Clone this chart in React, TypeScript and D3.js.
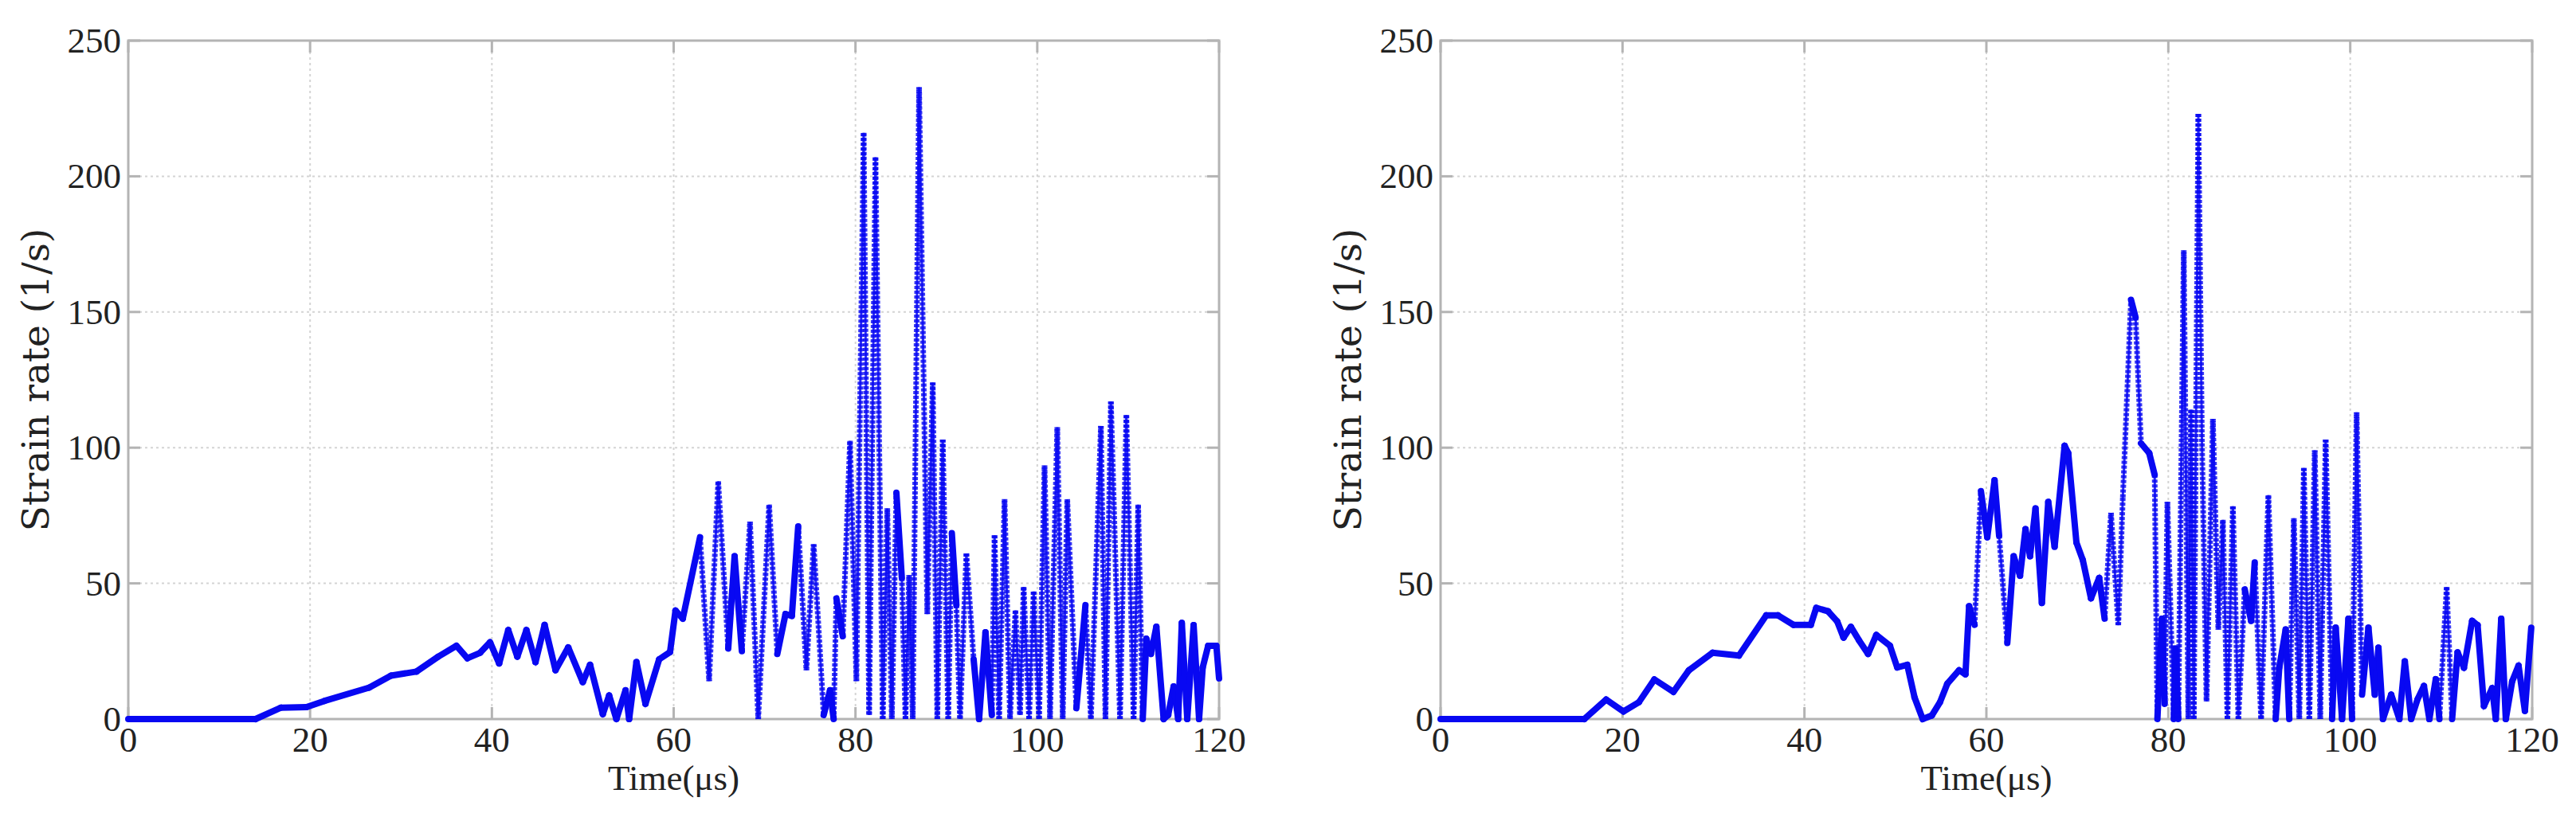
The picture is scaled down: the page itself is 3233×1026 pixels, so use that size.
import React from "react";
import * as d3 from "d3";

const xTicks = [0, 20, 40, 60, 80, 100, 120];
const yTicks = [0, 50, 100, 150, 200, 250];
const xLabel = "Time(μs)";
const yLabel = "Strain rate (1/s)";

const leftTime = [0, 14, 16.8, 19.6, 21.6, 26.5, 28.9, 31.7, 34.1, 36.1, 37.3, 38.7, 39.8, 40.8, 41.8, 42.8, 43.8, 44.8, 45.8, 47, 48.4, 50, 50.8, 52.2, 52.9, 53.7, 54.7, 55.1, 55.9, 56.9, 58.4, 59.6, 60.2, 61, 62.9, 63.9, 64.9, 66, 66.7, 67.5, 68.4, 69.3, 70.5, 71.4, 72.3, 73, 73.7, 74.6, 75.4, 76.5, 77.2, 77.6, 77.9, 78.6, 79.4, 80.1, 80.9, 81.5, 82.2, 83, 83.5, 84, 84.5, 85.1, 85.5, 85.9, 86.3, 87, 87.9, 88.5, 89, 89.6, 90.2, 90.6, 91.1, 91.5, 92.2, 93, 93.6, 94.3, 95, 95.3, 95.8, 96.4, 97, 97.6, 98.1, 98.5, 99.1, 99.6, 100.2, 100.8, 101.4, 102.2, 102.8, 103.3, 104.3, 105.3, 105.9, 107, 107.5, 108.1, 109.1, 109.8, 110.6, 111.1, 111.6, 112, 112.5, 113.1, 113.9, 114.4, 115, 115.5, 115.9, 116.5, 117.2, 117.8, 118.2, 118.8, 119.7, 120];
const leftRate = [0, 0, 4.2, 4.4, 6.7, 11.6, 16, 17.5, 23, 27, 22.4, 24.4, 28.3, 20.5, 32.8, 23, 32.8, 21, 34.7, 18, 26.4, 13.6, 20, 1.8, 8.7, 0, 10.6, 0, 21, 5.6, 22, 24.7, 40, 37, 67, 14, 87.6, 26, 60, 25, 72.7, 0, 79, 24, 38.7, 38, 71, 18, 64.4, 1.5, 10.6, 0, 44.5, 30.5, 102.5, 14, 216, 1.5, 207, 0, 77.6, 0, 83.4, 52, 0, 53, 0, 232.8, 38.7, 124, 0, 103, 0, 68.5, 42, 0, 61, 22, 0, 32, 1.5, 67.7, 0, 81, 0, 40, 1.5, 48.7, 0, 47, 0, 93.4, 0, 107.5, 0, 81, 4, 42, 0, 108, 0, 117, 0, 112, 0, 79, 0, 29.6, 24, 34, 0, 1.5, 12, 0, 35.4, 0, 34.6, 0, 19, 27, 27, 15];

const rightTime = [0, 15.8, 18.2, 20.1, 21.8, 23.5, 25.6, 27.3, 29.9, 32.8, 35.8, 37.1, 38.8, 40.7, 41.3, 42.6, 43.6, 44.3, 45.1, 46, 47, 47.9, 49.4, 50.2, 51.3, 52.1, 53, 54, 54.9, 55.7, 57, 57.7, 58.1, 58.7, 59.4, 60.1, 60.9, 61.4, 62.3, 63, 63.7, 64.3, 64.8, 65.4, 66.1, 66.8, 67.5, 68.6, 69, 69.9, 70.6, 71.5, 72.4, 73, 73.7, 74.5, 75, 75.9, 76.4, 77, 77.9, 78.5, 78.8, 79.3, 79.6, 79.9, 80.6, 80.8, 81.1, 81.7, 82.2, 82.5, 82.8, 83.3, 83.7, 84.2, 84.9, 85.5, 86, 86.5, 87.1, 87.7, 88.4, 89.1, 89.5, 90.2, 91, 91.8, 92.2, 92.9, 93.3, 93.8, 94.4, 94.9, 95.5, 96.1, 96.7, 97.3, 98, 98.4, 99.1, 99.8, 100.2, 100.7, 101.3, 102, 102.7, 103.1, 103.6, 104.5, 105.4, 106, 106.7, 107.4, 108.1, 108.7, 109.4, 109.8, 110.6, 111.2, 111.8, 112.5, 113.4, 114, 114.7, 115.6, 116, 116.6, 117.1, 117.8, 118.5, 119.2, 119.9];
const rightRate = [0, 0, 7.2, 2.8, 6.2, 14.6, 10, 18, 24.4, 23.4, 38.2, 38.2, 34.7, 34.7, 41, 39.7, 36, 30, 34, 29, 24, 31, 27, 19, 20, 8, 0, 1.3, 6.2, 13, 18, 16.5, 41.6, 34.7, 84, 67, 88, 67.6, 28, 60, 52.8, 70, 60, 77.6, 42.8, 80, 63.5, 100.7, 98, 65, 58.6, 44.5, 52, 37, 76, 34.6, 81.7, 154.5, 148, 101.6, 98, 90, 0, 37, 5.6, 80, 0, 26, 0, 172.7, 0, 114, 0, 223, 101.6, 6.5, 110.6, 33, 73.4, 0, 78.4, 0, 47.8, 36.2, 57.7, 0, 82.5, 0, 19, 33, 0, 74, 0, 92.5, 0, 99, 0, 103, 0, 33.7, 0, 37, 0, 113, 9, 33.7, 9, 26.3, 0, 9, 0, 21.3, 0, 7.3, 12.2, 0, 14.7, 0, 48.6, 0, 24.6, 18.9, 36.2, 34.6, 4.8, 11.4, 0, 37, 0, 13.9, 19.7, 3, 33.7];

const W = 3233;
const H = 1026;
const TOP = 51;
const BOTTOM = 903;
const FONT = "'Liberation Serif', 'Times New Roman', serif";
const LABEL_FONT = "'DejaVu Serif', serif";
const AXIS = "#b4b4b4";
const GRID = "#d4d4d4";
const BLUE = "#0808f2";

function Panel({ x0, x1, time, rate }: { x0: number; x1: number; time: number[]; rate: number[] }) {
  const x = d3.scaleLinear().domain([0, 120]).range([x0, x1]);
  const y = d3.scaleLinear().domain([0, 250]).range([BOTTOM, TOP]);
  const pts: [number, number][] = time.map((t, i) => [x(t), y(rate[i])]);
  const line = d3.line();
  const segs = pts.slice(1).map((p, i) => {
    const a = pts[i];
    const dx = Math.abs(p[0] - a[0]);
    const dy = Math.abs(p[1] - a[1]);
    const steep = dy > 2.5 * dx && dy > 130;
    return { d: line([a, p]) as string, steep };
  });
  return (
    <g>
      {xTicks.slice(1, -1).map((t) => (
        <line key={"gx" + t} x1={x(t)} x2={x(t)} y1={TOP} y2={BOTTOM} stroke={GRID} strokeWidth={2} strokeDasharray="3 4" />
      ))}
      {yTicks.slice(1, -1).map((v) => (
        <line key={"gy" + v} x1={x0} x2={x1} y1={y(v)} y2={y(v)} stroke={GRID} strokeWidth={2} strokeDasharray="3 4" />
      ))}
      <rect x={x0} y={TOP} width={x1 - x0} height={BOTTOM - TOP} fill="none" stroke={AXIS} strokeWidth={3} />
      {xTicks.map((t) => (
        <g key={"tx" + t}>
          <line x1={x(t)} x2={x(t)} y1={BOTTOM} y2={BOTTOM - 15} stroke={AXIS} strokeWidth={3} />
          <line x1={x(t)} x2={x(t)} y1={TOP} y2={TOP + 15} stroke={AXIS} strokeWidth={3} />
          <text x={x(t)} y={BOTTOM + 41} textAnchor="middle" fontFamily={FONT} fontSize={45} fill="#222">{t}</text>
        </g>
      ))}
      {yTicks.map((v) => (
        <g key={"ty" + v}>
          <line x1={x0} x2={x0 + 15} y1={y(v)} y2={y(v)} stroke={AXIS} strokeWidth={3} />
          <line x1={x1} x2={x1 - 15} y1={y(v)} y2={y(v)} stroke={AXIS} strokeWidth={3} />
          <text x={x0 - 9} y={y(v) + 15} textAnchor="end" fontFamily={FONT} fontSize={45} fill="#222">{v}</text>
        </g>
      ))}
      <path d={line(pts) as string} fill="none" stroke={BLUE} strokeWidth={3} strokeOpacity={0.85} />
      {segs.map((s, i) =>
        s.steep ? (
          <path key={i} d={s.d} fill="none" stroke={BLUE} strokeWidth={7} strokeOpacity={0.8} strokeDasharray="4 2" />
        ) : (
          <path key={i} d={s.d} fill="none" stroke={BLUE} strokeWidth={8} strokeLinecap="round" />
        )
      )}
      <text x={(x0 + x1) / 2} y={992} textAnchor="middle" fontFamily={FONT} fontSize={45} fill="#222">{xLabel}</text>
      <text transform={`translate(${x0 - 100},${(TOP + BOTTOM) / 2}) rotate(-90)`} textAnchor="middle" fontFamily={LABEL_FONT} fontSize={47} fill="#222">{yLabel}</text>
    </g>
  );
}

export default function App() {
  return (
    <svg width={W} height={H} style={{ position: "absolute", left: 0, top: 0, background: "#fff" }}>
      <rect width={W} height={H} fill="#fff" />
      <Panel x0={161} x1={1530} time={leftTime} rate={leftRate} />
      <Panel x0={1808} x1={3178} time={rightTime} rate={rightRate} />
    </svg>
  );
}
